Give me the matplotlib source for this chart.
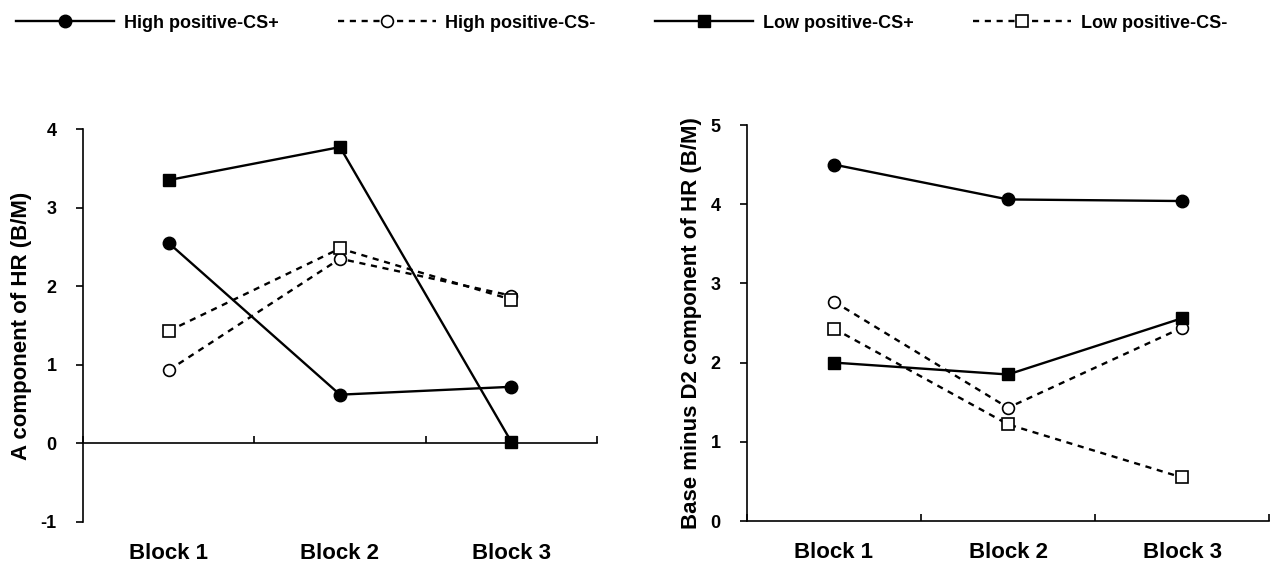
import matplotlib
matplotlib.use("Agg")
import matplotlib.pyplot as plt
from matplotlib.transforms import blended_transform_factory
from matplotlib.lines import Line2D

plt.rcParams['font.family'] = ['Liberation Sans', 'DejaVu Sans']
plt.rcParams['font.weight'] = 'bold'

categories = ["Block 1", "Block 2", "Block 3"]
series_names = ["High positive-CS+", "High positive-CS-", "Low positive-CS+", "Low positive-CS-"]

# Left panel: A component of HR
left_high_cs_plus = [2.55, 0.62, 0.72]
left_high_cs_minus = [0.93, 2.35, 1.88]
left_low_cs_plus = [3.35, 3.77, 0.02]
left_low_cs_minus = [1.43, 2.48, 1.83]

# Right panel: Base minus D2 component of HR
right_high_cs_plus = [4.50, 4.06, 4.04]
right_high_cs_minus = [2.77, 1.43, 2.44]
right_low_cs_plus = [2.00, 1.85, 2.56]
right_low_cs_minus = [2.43, 1.22, 0.55]

left_yticks = [-1, 0, 1, 2, 3, 4]
right_yticks = [0, 1, 2, 3, 4, 5]

dash = (0, (2.6, 2.4))
styles = [
    dict(linestyle='-', marker='o', mfc='black', mec='black', ms=9),
    dict(linestyle=dash, marker='o', mfc='white', mec='black', ms=8.5, mew=1.2),
    dict(linestyle='-', marker='s', mfc='black', mec='black', ms=8),
    dict(linestyle=dash, marker='s', mfc='white', mec='black', ms=8.5, mew=1.2),
]

fig = plt.figure(figsize=(12.71, 5.63), dpi=100)
axL = fig.add_axes([83 / 1271, 1 - 522 / 563, 514 / 1271, 393 / 563])
axR = fig.add_axes([747 / 1271, 1 - 521 / 563, 522 / 1271, 396 / 563])

x = [1, 2, 3]

def draw(ax, data, yticks, ylabel):
    for vals, st in zip(data, styles):
        ax.plot(x, vals, color='black', lw=1.7, **st, clip_on=False, zorder=3)
    ax.set_xlim(0.5, 3.5)
    ax.set_ylim(yticks[0], yticks[-1])
    ax.set_yticks(yticks)
    ax.set_yticklabels([str(t) for t in yticks], fontsize=13, fontweight='bold')
    ax.spines['top'].set_visible(False)
    ax.spines['right'].set_visible(False)
    ax.spines['bottom'].set_position(('data', 0))
    ax.spines['left'].set_linewidth(1.2)
    ax.spines['bottom'].set_linewidth(1.2)
    ax.set_xticks([0.5, 1.5, 2.5, 3.5])
    ax.set_xticklabels([])
    ax.tick_params(axis='x', direction='in', length=5, width=1.2)
    ax.tick_params(axis='y', direction='out', length=5, width=1.2, pad=14)
    ax.set_ylabel(ylabel, fontsize=16, fontweight='bold', labelpad=6)
    tr = blended_transform_factory(ax.transData, ax.transAxes)
    for xi, c in zip(x, categories):
        ax.text(xi, -0.08, c, transform=tr, ha='center', va='center',
                fontsize=16, fontweight='bold')

draw(axL, [left_high_cs_plus, left_high_cs_minus, left_low_cs_plus, left_low_cs_minus],
     left_yticks, "A component of HR (B/M)")
draw(axR, [right_high_cs_plus, right_high_cs_minus, right_low_cs_plus, right_low_cs_minus],
     right_yticks, "Base minus D2 component of HR (B/M)")

handles = [Line2D([0], [0], color='black', lw=1.7, **st) for st in styles]
fig.legend(handles, series_names, loc='center left', bbox_to_anchor=(0.0, 1 - 23 / 563),
           ncol=4, frameon=False, handlelength=5.4, handletextpad=0.55,
           columnspacing=3.3, prop=dict(size=13, weight='bold'))

fig.savefig("out.png", dpi=100)
